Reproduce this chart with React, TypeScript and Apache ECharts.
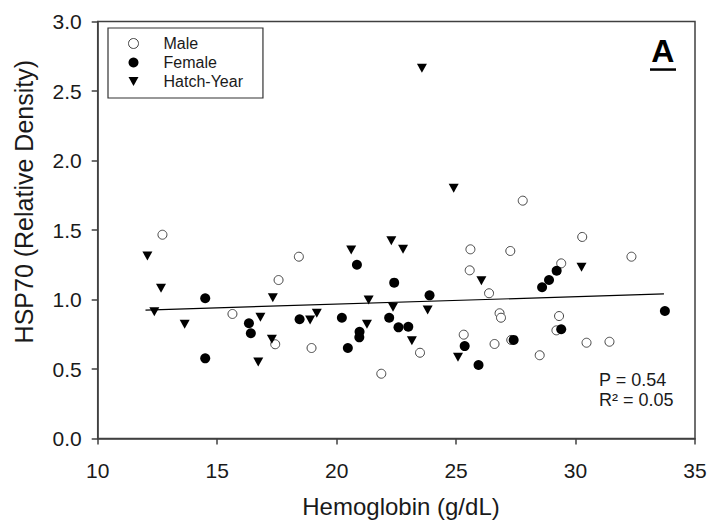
import React, { useEffect, useRef } from "react";
import * as echarts from "echarts";

const xTicks = [10, 15, 20, 25, 30, 35];
const yTicks = [0, 0.5, 1.0, 1.5, 2.0, 2.5, 3.0];

const maleData: [number, number][] = [
  [12.71, 1.466], [18.42, 1.308], [17.57, 1.14], [15.64, 0.896], [17.43, 0.678],
  [25.6, 1.361], [25.57, 1.21], [26.38, 1.045], [18.95, 0.651], [23.49, 0.617],
  [25.32, 0.747], [21.87, 0.466], [27.79, 1.711], [30.28, 1.45], [27.27, 1.349],
  [32.34, 1.308], [29.4, 1.26], [26.82, 0.901], [26.88, 0.869], [29.31, 0.881],
  [29.2, 0.778], [27.31, 0.709], [26.61, 0.68], [30.46, 0.689], [31.42, 0.696],
  [28.5, 0.599],
];

const femaleData: [number, number][] = [
  [14.5, 1.009], [18.45, 0.858], [16.33, 0.829], [16.41, 0.757], [14.5, 0.577],
  [20.85, 1.25], [22.41, 1.121], [23.89, 1.03], [20.22, 0.869], [22.2, 0.869],
  [22.59, 0.8], [23.0, 0.804], [20.96, 0.768], [20.95, 0.728], [20.47, 0.651],
  [25.36, 0.665], [25.94, 0.529], [29.21, 1.207], [28.89, 1.14], [28.6, 1.088],
  [33.74, 0.917], [29.4, 0.786], [27.41, 0.709],
];

const hatchYearData: [number, number][] = [
  [12.08, 1.313], [12.65, 1.081], [12.37, 0.912], [13.64, 0.822], [17.33, 1.013],
  [16.81, 0.872], [17.29, 0.714], [16.72, 0.55], [20.61, 1.356], [22.29, 1.423],
  [22.78, 1.361], [26.06, 1.135], [21.34, 0.996], [22.36, 0.944], [23.81, 0.924],
  [18.89, 0.853], [19.17, 0.901], [21.27, 0.822], [23.15, 0.704], [25.08, 0.584],
  [30.25, 1.232], [23.57, 2.663], [24.9, 1.8],
];

const fitLine: [number, number][] = [
  [12.0, 0.924],
  [33.7, 1.04],
];

const FONT = "'Liberation Sans', Arial, sans-serif";
const AXIS_COLOR = "#404040";
const TEXT_COLOR = "#1a1a1a";
const DOWN_TRIANGLE = "path://M0,0L10,0L5,9Z";

export default function App() {
  const ref = useRef<HTMLDivElement>(null);

  useEffect(() => {
    if (!ref.current) return;
    const chart = echarts.init(ref.current, undefined, { renderer: "svg" });
    chart.setOption({
      animation: false,
      backgroundColor: "#ffffff",
      textStyle: { fontFamily: FONT },
      grid: {
        left: 97.7,
        right: 17,
        top: 21.5,
        bottom: 90.5,
        show: true,
        borderColor: AXIS_COLOR,
        borderWidth: 1.5,
        backgroundColor: "transparent",
      },
      legend: {
        orient: "vertical",
        left: 108,
        top: 28,
        padding: [6, 20, 7, 20],
        itemWidth: 10,
        itemHeight: 10,
        itemGap: 0,
        borderColor: "#333",
        borderWidth: 1.2,
        backgroundColor: "#ffffff",
        itemStyle: { borderWidth: 1 },
        textStyle: {
          fontSize: 16,
          lineHeight: 19,
          color: TEXT_COLOR,
          fontFamily: FONT,
          padding: [0, 0, 0, 20],
        },
        data: [
          { name: "Male", icon: "circle" },
          { name: "Female", icon: "circle" },
          { name: "Hatch-Year", icon: DOWN_TRIANGLE },
        ],
      },
      xAxis: {
        type: "value",
        min: xTicks[0],
        max: xTicks[xTicks.length - 1],
        interval: 5,
        axisLine: { show: true, lineStyle: { color: AXIS_COLOR, width: 1.5 } },
        axisTick: { show: true, length: 6, lineStyle: { color: AXIS_COLOR, width: 1.5 } },
        axisLabel: { fontSize: 21, color: TEXT_COLOR, margin: 21, fontFamily: FONT },
        splitLine: { show: false },
      },
      yAxis: {
        type: "value",
        min: yTicks[0],
        max: yTicks[yTicks.length - 1],
        interval: 0.5,
        axisLine: { show: true, lineStyle: { color: AXIS_COLOR, width: 1.5 } },
        axisTick: { show: true, length: 6, lineStyle: { color: AXIS_COLOR, width: 1.5 } },
        axisLabel: {
          fontSize: 21,
          color: TEXT_COLOR,
          margin: 16,
          fontFamily: FONT,
          formatter: (v: number) => v.toFixed(1),
        },
        splitLine: { show: false },
      },
      series: [
        {
          name: "Regression",
          type: "line",
          data: fitLine,
          showSymbol: false,
          symbol: "none",
          lineStyle: { color: "#000", width: 1.2 },
          silent: true,
          z: 1,
        },
        {
          name: "Male",
          type: "scatter",
          data: maleData,
          symbol: "circle",
          symbolSize: 9,
          itemStyle: { color: "#ffffff", borderColor: "#444", borderWidth: 1, opacity: 1 },
          z: 2,
        },
        {
          name: "Female",
          type: "scatter",
          data: femaleData,
          symbol: "circle",
          symbolSize: 10,
          itemStyle: { color: "#000000", opacity: 1 },
          z: 3,
        },
        {
          name: "Hatch-Year",
          type: "scatter",
          data: hatchYearData,
          symbol: "triangle",
          symbolSize: [10, 9],
          symbolRotate: 180,
          itemStyle: { color: "#000000", opacity: 1 },
          z: 4,
        },
      ],
      graphic: [
        {
          type: "text",
          x: 662.7,
          y: 50.5,
          style: {
            text: "A",
            fontSize: 32,
            fontWeight: "bold",
            fontFamily: FONT,
            fill: "#000",
            align: "center",
            verticalAlign: "middle",
          },
        },
        {
          type: "rect",
          shape: { x: 650, y: 68.3, width: 26, height: 2.5 },
          style: { fill: "#000" },
        },
        {
          type: "text",
          x: 599,
          y: 380,
          style: {
            text: "P = 0.54",
            fontSize: 18,
            fontFamily: FONT,
            fill: TEXT_COLOR,
            align: "left",
            verticalAlign: "middle",
          },
        },
        {
          type: "text",
          x: 599,
          y: 400,
          style: {
            text: "R² = 0.05",
            fontSize: 18,
            fontFamily: FONT,
            fill: TEXT_COLOR,
            align: "left",
            verticalAlign: "middle",
          },
        },
        {
          type: "text",
          x: 401,
          y: 506.7,
          style: {
            text: "Hemoglobin (g/dL)",
            fontSize: 24,
            fontFamily: FONT,
            fill: TEXT_COLOR,
            align: "center",
            verticalAlign: "middle",
          },
        },
        {
          type: "text",
          x: 24,
          y: 201.7,
          rotation: Math.PI / 2,
          style: {
            text: "HSP70 (Relative Density)",
            fontSize: 25,
            fontFamily: FONT,
            fill: TEXT_COLOR,
            align: "center",
            verticalAlign: "middle",
          },
        },
      ],
    });
    return () => chart.dispose();
  }, []);

  return (
    <div
      ref={ref}
      style={{ position: "fixed", left: 0, top: 0, width: 712, height: 529 }}
    />
  );
}
